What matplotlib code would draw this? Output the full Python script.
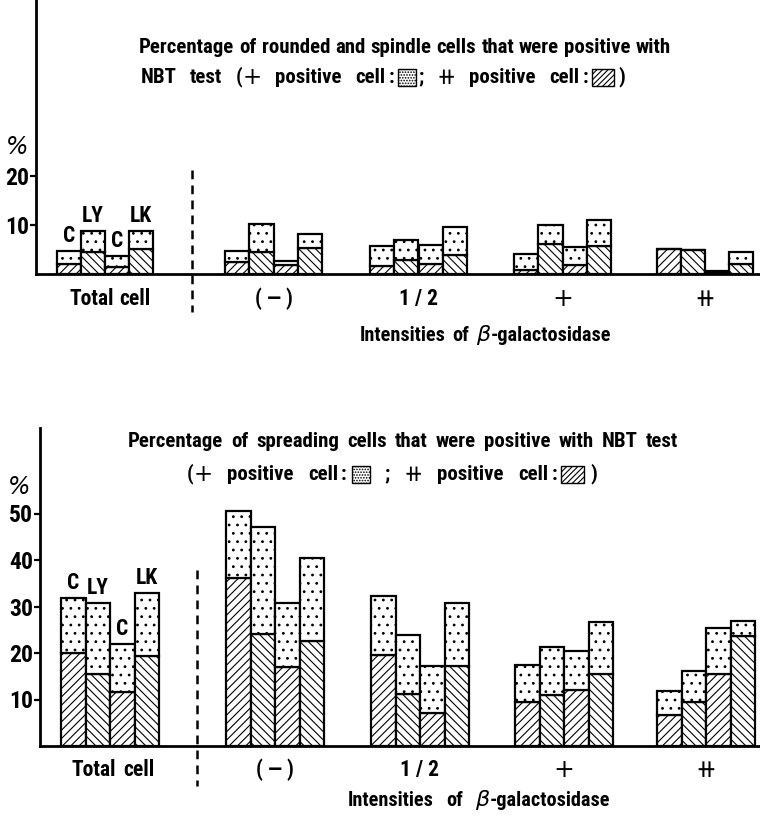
import os
import matplotlib
matplotlib.use('Agg')
import matplotlib.pyplot as plt
from matplotlib.patches import Rectangle
from matplotlib.font_manager import FontProperties, fontManager

plt.rcParams['hatch.linewidth'] = 0.8

# ---------------- data ----------------
groups = ['Total cell', '( — )', '1 / 2', '+', '⧺']
cell_types = ['C', 'LY', 'C', 'LK']

# rounded and spindle cells: total % NBT positive, and strongly (⧺) positive part
rs_total = [[4.7, 8.8, 3.6, 8.7],
            [4.7, 10.3, 2.7, 8.1],
            [5.8, 6.9, 6.0, 9.5],
            [4.0, 10.0, 5.5, 11.1],
            [5.1, 5.0, 0.6, 4.5]]
rs_strong = [[2.0, 4.5, 1.5, 5.2],
             [2.5, 4.5, 1.8, 5.3],
             [1.6, 2.8, 2.0, 3.8],
             [0.9, 6.1, 1.8, 5.8],
             [5.1, 5.0, 0.3, 2.1]]

# spreading cells
sp_total = [[31.8, 30.8, 21.9, 32.9],
            [50.6, 47.2, 30.8, 40.4],
            [32.2, 23.9, 17.3, 30.8],
            [17.5, 21.2, 20.4, 26.7],
            [11.8, 16.2, 25.3, 26.9]]
sp_strong = [[20.1, 15.5, 11.7, 19.4],
             [36.1, 24.1, 16.9, 22.6],
             [19.6, 11.2, 7.2, 17.3],
             [9.4, 11.0, 12.1, 15.5],
             [6.7, 9.5, 15.5, 23.6]]

top_ticks = [10, 20]
bot_ticks = [10, 20, 30, 40, 50]


# ---------------- fonts ----------------
def find_narrow_bold():
    prefs = ['liberation sans narrow', 'roboto condensed', 'dejavu sans condensed',
             'noto sans condensed', 'noto sans', 'open sans condensed', 'open sans', 'roboto']
    cands = []
    for f in fontManager.ttflist:
        base = os.path.basename(f.fname).lower()
        if f.style != 'normal':
            continue
        w = f.weight
        if isinstance(w, str):
            w = {'bold': 700, 'normal': 400, 'semibold': 600, 'heavy': 800}.get(w, 400)
        if w < 600 or w > 800:
            continue
        if not ('narrow' in base or 'condensed' in base or 'cond' in base):
            continue
        if 'extra' in base or 'ultra' in base or '[' in base:
            continue
        semi = 'semi' in base
        name = f.name.lower()
        rank = prefs.index(name) if name in prefs else len(prefs)
        cands.append((semi, rank, abs(w - 700), f.fname))
    if cands:
        cands.sort()
        return cands[0][3]
    return None


_path = find_narrow_bold()
if _path:
    BOLD = FontProperties(fname=_path)
else:
    BOLD = FontProperties(family=['Roboto', 'DejaVu Sans'], weight='bold')
THIN = FontProperties(family=['DejaVu Sans'], weight='normal')
ITAL = FontProperties(family=['DejaVu Sans'], weight='normal', style='italic')

# ---------------- layout ----------------
W, H = 760, 817
fig = plt.figure(figsize=(W / 100, H / 100), dpi=100)
renderer = fig.canvas.get_renderer()


def px_axes(left, top, right, bottom):
    return fig.add_axes([left / W, 1 - bottom / H, (right - left) / W, (bottom - top) / H])


HATCH_A = '////'
HATCH_B = '\\\\\\\\'
DOTS = '..'


def draw_panel(ax, totals, strongs, centers, bw, ticks, ymax, left):
    ax.set_xlim(left, W)
    ax.set_ylim(0, ymax)
    for g, c in enumerate(centers):
        for i in range(4):
            x = c + (i - 1.5) * bw
            s = strongs[g][i]
            t = totals[g][i]
            ax.bar(x, s, width=bw, facecolor='white', edgecolor='black',
                   linewidth=1.6, hatch=HATCH_A if i % 2 == 0 else HATCH_B, zorder=2)
            ax.bar(x, t - s, bottom=s, width=bw, facecolor='white', edgecolor='black',
                   linewidth=1.6, hatch=DOTS, zorder=2)
    for sp in ['top', 'right']:
        ax.spines[sp].set_visible(False)
    for sp in ['left', 'bottom']:
        ax.spines[sp].set_linewidth(2)
    ax.set_xticks([])
    ax.set_yticks(ticks)
    ax.set_yticklabels([str(t) for t in ticks])
    for lab in ax.get_yticklabels():
        lab.set_fontproperties(BOLD)
        lab.set_fontsize(17)
    ax.tick_params(axis='y', direction='out', length=4, width=1.6, pad=1)
    ax.patch.set_alpha(0)


top_centers = [105, 273.5, 418.5, 562.5, 705]
bot_centers = [110, 275, 420, 564, 706]

ax1 = px_axes(36, 0, 760, 274)
draw_panel(ax1, rs_total, rs_strong, top_centers, 24.2, top_ticks, 274 / 4.9, 36)
ax2 = px_axes(40, 428, 760, 746)
draw_panel(ax2, sp_total, sp_strong, bot_centers, 24.5, bot_ticks, 318 / 4.65, 40)

# overlay in pixel coordinates
ov = fig.add_axes([0, 0, 1, 1])
ov.set_xlim(0, W)
ov.set_ylim(H, 0)
ov.axis('off')
ov.patch.set_alpha(0)


def text_width(s, fp, size):
    t = ov.text(0, 0, s, fontproperties=fp, fontsize=size)
    w = t.get_window_extent(renderer).width
    t.remove()
    return w


def words(s):
    out = []
    for i, w in enumerate(s.split()):
        if i:
            out.append(('sp',))
        out.append(('text', w))
    return out


def justify(x0, x1, y, parts, size, min_sp=3.5, draw=True):
    """Lay out parts between x0 and x1, stretching the flexible spaces."""
    while True:
        fixed = 0.0
        nsp = 0
        widths = []
        for p in parts:
            if p[0] == 'text':
                fp = p[2] if len(p) > 2 else BOLD
                rel = p[3] if len(p) > 3 else 1.0
                w = text_width(p[1], fp, size * rel)
                widths.append(w)
                fixed += w
            elif p[0] in ('gap', 'box'):
                widths.append(p[1])
                fixed += p[1]
            else:
                widths.append(None)
                nsp += 1
        sp = (x1 - x0 - fixed) / max(nsp, 1)
        if sp >= min_sp or size < 8:
            break
        size *= 0.97
    if not draw:
        return size
    x = x0
    for p, w in zip(parts, widths):
        if p[0] == 'text':
            fp = p[2] if len(p) > 2 else BOLD
            rel = p[3] if len(p) > 3 else 1.0
            ov.text(x, y, p[1], fontproperties=fp, fontsize=size * rel, va='center', ha='left')
            x += w
        elif p[0] == 'box':
            ov.add_patch(Rectangle((x, y - 8), p[1], 17, facecolor='white',
                                   edgecolor='black', linewidth=1.0, hatch=p[2]))
            x += w
        elif p[0] == 'gap':
            x += w
        else:
            x += sp
    return size


# ---- text rows ----
title_top1 = words('Percentage of rounded and spindle cells that were positive with')
title_bot1 = words('Percentage of spreading cells that were positive with NBT test')
line2_top = (words('NBT test') + [('sp',), ('text', '('), ('text', '+', THIN, 1.1), ('sp',)]
             + words('positive cell') + [('gap', 3), ('text', ':'), ('gap', 4),
                                         ('box', 18, '......'), ('gap', 2), ('text', ';'),
                                         ('sp',), ('text', '⧺', THIN, 1.1), ('sp',)]
             + words('positive cell') + [('gap', 3), ('text', ':'), ('gap', 4),
                                         ('box', 22, '//////'), ('gap', 4), ('text', ')')])
line2_bot = ([('text', '('), ('text', '+', THIN, 1.1), ('sp',)]
             + words('positive cell') + [('gap', 3), ('text', ':'), ('gap', 5),
                                         ('box', 18, '......'), ('sp',), ('text', ';'),
                                         ('sp',), ('text', '⧺', THIN, 1.1), ('sp',)]
             + words('positive cell') + [('gap', 3), ('text', ':'), ('gap', 4),
                                         ('box', 23, '//////'), ('gap', 6), ('text', ')')])
xt = [('text', 'Intensities'), ('sp',), ('text', 'of'), ('sp',), ('text', 'β', ITAL, 1.1),
      ('text', '-galactosidase')]

# common title size: largest that fits both first lines
TS = min(justify(139, 671, 47, title_top1, 16, draw=False),
         justify(128, 678, 441, title_bot1, 16, draw=False))

justify(139, 671, 47, title_top1, TS)
justify(141, 625, 77, line2_top, TS, min_sp=2)
justify(128, 678, 441, title_bot1, TS)
justify(187, 597, 474, line2_bot, TS, min_sp=2)

# "%" labels
ov.text(17, 147, '%', fontproperties=ITAL, fontsize=17, ha='center', va='center')
ov.text(19, 487, '%', fontproperties=ITAL, fontsize=17, ha='center', va='center')

# bar labels over the total-cell group
for ax, totals, centers, bw in [(ax1, rs_total, top_centers, 24.2),
                                (ax2, sp_total, bot_centers, 24.5)]:
    for i, lab in enumerate(cell_types):
        x = centers[0] + (i - 1.5) * bw
        ax.annotate(lab, (x, totals[0][i]), xytext=(0, 3), textcoords='offset points',
                    ha='center', va='bottom', fontproperties=BOLD, fontsize=15.5)

# group labels (common size from the widest one)
GS = min(justify(69, 150, 0, words(groups[0]), 16, min_sp=5, draw=False),
         justify(72, 155, 0, words(groups[0]), 16, min_sp=5, draw=False))
for centers, y, tc in [(top_centers, 299, (69, 150)), (bot_centers, 770, (72, 155))]:
    justify(tc[0], tc[1], y, words(groups[0]), GS, min_sp=2)
    for g in range(1, len(groups)):
        c = centers[g]
        if groups[g] in ('+', '⧺'):
            ov.text(c, y, groups[g], fontproperties=THIN, fontsize=18, ha='center', va='center')
        else:
            ov.text(c, y, groups[g], fontproperties=BOLD, fontsize=GS,
                    ha='center', va='center')

# dashed separators
ov.plot([192, 192], [170, 312], color='black', lw=1.8, ls=(0, (3.5, 2.5)))
ov.plot([197, 197], [570, 786], color='black', lw=1.8, ls=(0, (3.5, 2.5)))

# x axis titles
XS = min(justify(360, 611, 335, xt, 16, min_sp=5, draw=False), GS + 1)
justify(360, 611, 335, xt, XS, min_sp=2)
justify(348, 610, 800, xt, XS, min_sp=2)

fig.savefig('out.png', dpi=100)
